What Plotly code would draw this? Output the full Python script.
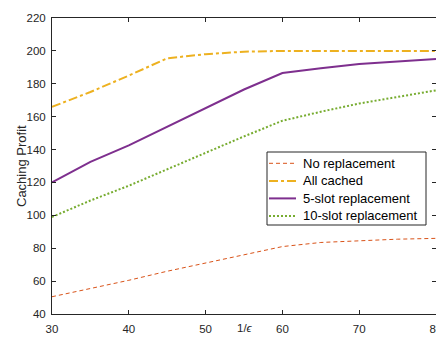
import plotly.graph_objects as go

x_vals = [30, 35, 40, 45, 50, 55, 60, 65, 70, 75, 80]
no_repl = [50.5, 55.5, 60.5, 66, 71, 76, 81, 83.5, 84.5, 85.5, 86]
all_cached = [166, 175, 185, 195.5, 198, 199.5, 200, 200, 200, 200, 200]
slot5 = [120, 132.5, 142.5, 154, 165.5, 176.5, 186.5, 189.5, 192, 193.5, 195]
slot10 = [99, 109, 118, 128, 138, 148, 157.5, 163, 168, 172, 176]

x_ticks = [30, 40, 50, 60, 70, 80]
y_ticks = [40, 60, 80, 100, 120, 140, 160, 180, 200, 220]

series_names = ["No replacement", "All cached", "5-slot replacement", "10-slot replacement"]
series_data = [no_repl, all_cached, slot5, slot10]
series_colors = ["#D95319", "#EDB120", "#7E2F8E", "#77AC30"]
series_widths = [1, 2, 2, 2]
series_dash = ["4px,3px", "9px,3px,3px,3px", "solid", "2px,2px"]

FONT = "Liberation Sans, Arial, sans-serif"
TXT = "#262626"

fig = go.Figure()
for name, ys, c, w, d in zip(series_names, series_data, series_colors, series_widths, series_dash):
    fig.add_trace(go.Scatter(x=x_vals, y=ys, mode="lines", name=name,
                             line=dict(color=c, width=w, dash=d), showlegend=False))

axis_common = dict(showline=True, linecolor=TXT, linewidth=1, mirror="ticks",
                   ticks="inside", ticklen=4, tickcolor=TXT, showgrid=False,
                   zeroline=False, automargin=False,
                   tickfont=dict(family=FONT, size=11.5, color=TXT))

fig.update_xaxes(range=[30, 80], tickvals=x_ticks, ticklabeloverflow="allow",
                 ticklabelstandoff=4, **axis_common)
fig.update_yaxes(range=[40, 220], tickvals=y_ticks, ticklabelstandoff=3, **axis_common)

# plot-area pixel -> paper conversion helpers
L, T, W, H = 52, 18, 384, 296
def px(X):
    return (X - L) / W
def py(Y):
    return (T + H - Y) / H

fig.add_annotation(text="Caching Profit", xref="paper", yref="paper", x=px(21), y=py(166),
                   textangle=-90, showarrow=False, xanchor="center", yanchor="middle",
                   font=dict(family=FONT, size=13, color=TXT))
fig.add_annotation(text="1/<i>ϵ</i>", xref="paper", yref="paper", x=px(245), y=py(328),
                   showarrow=False, yanchor="middle", xanchor="center",
                   font=dict(family=FONT, size=11.5, color=TXT))

# custom legend
fig.add_shape(type="rect", xref="paper", yref="paper", x0=px(267), x1=px(426), y0=py(152), y1=py(225),
              line=dict(color=TXT, width=1), fillcolor="white", layer="above")
row_y = [163.3, 180.9, 198.4, 216]
for name, c, w, d, ry in zip(series_names, series_colors, series_widths, series_dash, row_y):
    fig.add_shape(type="line", xref="paper", yref="paper", x0=px(269), x1=px(296), y0=py(ry), y1=py(ry),
                  line=dict(color=c, width=w, dash=d), layer="above")
    fig.add_annotation(text=name, xref="paper", yref="paper", x=px(301), y=py(ry),
                       showarrow=False, xanchor="left", yanchor="middle",
                       font=dict(family=FONT, size=13, color="#000000"))

fig.update_layout(
    width=436, height=344,
    margin=dict(l=52, r=0, t=18, b=30, autoexpand=False),
    plot_bgcolor="white", paper_bgcolor="white",
    showlegend=False,
)

fig.write_html("out.html")
